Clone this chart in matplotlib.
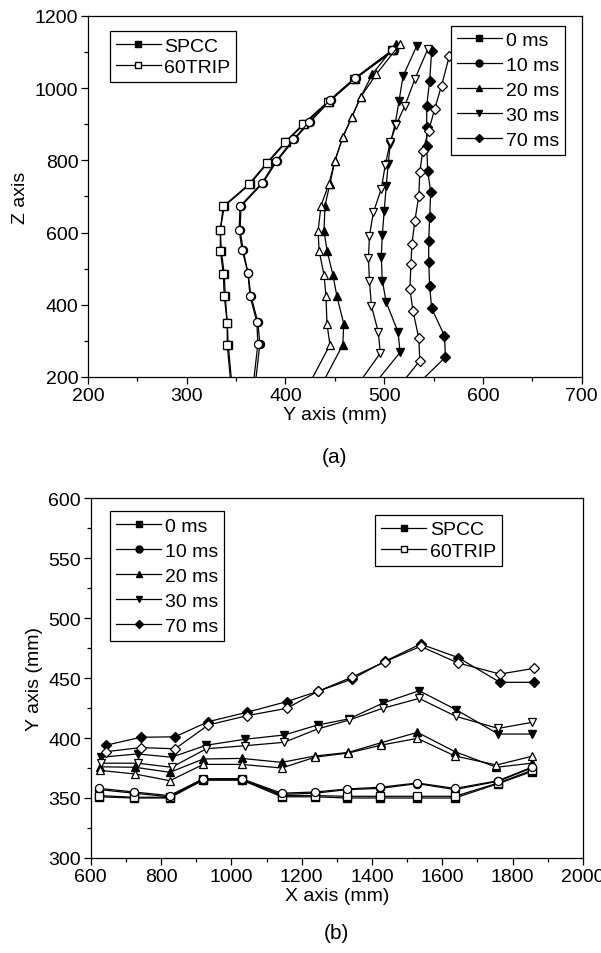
import matplotlib
matplotlib.use("Agg")
import matplotlib.pyplot as plt
from matplotlib.lines import Line2D
from matplotlib.ticker import MultipleLocator

plt.rcParams['font.family'] = ['Liberation Sans', 'DejaVu Sans']
plt.rcParams['font.size'] = 14

# ---- (a) Z axis vs Y axis ----
labels = ['0 ms', '10 ms', '20 ms', '30 ms', '70 ms']
markers = ['s', 'o', '^', 'v', 'D']

a_z_spcc = [
    [170, 289, 350, 424, 485, 550, 608, 673, 734, 793, 852, 901, 963, 1025, 1105],
    [170, 291, 352, 425, 488, 553, 608, 673, 737, 797, 858, 907, 967, 1027, 1105],
    [170, 289, 347, 424, 483, 550, 605, 675, 735, 799, 864, 919, 975, 1039, 1122],
    [170, 268, 324, 407, 467, 532, 593, 661, 730, 790, 845, 901, 965, 1033, 1118],
    [170, 255, 314, 390, 451, 519, 578, 642, 712, 771, 841, 892, 952, 1021, 1104],
]
a_y_spcc = [
    [346, 342, 341, 339, 338, 335, 334, 338, 364, 382, 401, 419, 444, 470, 509],
    [369, 374, 372, 365, 362, 357, 354, 355, 377, 391, 409, 425, 446, 471, 510],
    [435, 458, 459, 452, 448, 442, 439, 440, 445, 450, 458, 467, 476, 488, 512],
    [487, 516, 514, 502, 498, 497, 498, 500, 502, 504, 506, 511, 515, 519, 533],
    [530, 562, 561, 548, 546, 545, 545, 546, 547, 544, 543, 543, 543, 546, 548],
]
a_z_trip = [
    [170, 289, 350, 424, 485, 550, 608, 673, 734, 793, 852, 901, 963, 1025, 1105],
    [170, 291, 352, 425, 488, 553, 608, 673, 737, 797, 858, 907, 967, 1027, 1105],
    [170, 289, 347, 424, 483, 550, 605, 675, 735, 799, 864, 919, 975, 1039, 1122],
    [170, 266, 324, 397, 467, 529, 591, 656, 721, 787, 850, 898, 952, 1025, 1108],
    [170, 245, 307, 384, 444, 513, 568, 633, 702, 767, 827, 882, 942, 1007, 1090],
]
a_y_trip = [
    [345, 341, 341, 338, 337, 334, 334, 337, 363, 381, 400, 418, 443, 469, 508],
    [367, 372, 371, 364, 362, 356, 353, 354, 376, 390, 408, 424, 445, 470, 508],
    [422, 445, 442, 441, 439, 434, 433, 436, 444, 450, 458, 467, 476, 492, 516],
    [471, 496, 494, 487, 485, 484, 485, 489, 497, 501, 506, 512, 521, 531, 544],
    [514, 536, 535, 529, 526, 527, 528, 531, 535, 536, 539, 545, 551, 558, 566],
]

# ---- (b) Y axis vs X axis ----
b_x = [
    [624, 723, 824, 920, 1029, 1143, 1238, 1328, 1423, 1529, 1636, 1759, 1854],
    [624, 723, 824, 920, 1029, 1143, 1238, 1330, 1424, 1529, 1636, 1759, 1854],
    [626, 726, 825, 920, 1029, 1143, 1238, 1333, 1425, 1529, 1636, 1754, 1854],
    [630, 733, 830, 929, 1040, 1150, 1245, 1335, 1430, 1534, 1639, 1759, 1854],
    [644, 742, 840, 934, 1044, 1157, 1247, 1342, 1437, 1538, 1645, 1764, 1860],
]
b_y_spcc = [
    [351, 350, 350, 365, 365, 351, 351, 350, 350, 350, 350, 362, 372],
    [357, 354, 351, 365, 365, 353, 354, 357, 358, 362, 357, 364, 375],
    [376, 375.6, 371.4, 382.5, 383, 379.7, 385, 388, 396, 404.7, 388.6, 375.6, 379],
    [384, 386.7, 384, 394, 399, 402.5, 410.8, 416, 429, 439.4, 423.6, 403.3, 403.3],
    [394, 400.6, 401, 413.6, 421.4, 430.3, 439, 449, 464, 478.3, 467, 446.4, 446.4],
]
b_y_trip = [
    [352, 350.6, 350.6, 366, 366, 352, 352, 351.4, 351.4, 351.4, 351.4, 362.5, 373],
    [358, 355, 352, 366, 366, 354, 355, 357.5, 359, 362.5, 358, 364.4, 375.6],
    [373, 370, 364.4, 378, 378, 375, 384, 387.5, 394, 399.7, 385, 377.5, 384.7],
    [379, 379, 375.6, 391, 393.6, 396.4, 407.5, 415, 424.7, 433, 418, 408, 413],
    [388.6, 392, 391, 410.8, 418.6, 424.7, 439, 450.6, 463.6, 476.4, 462.5, 453.3, 458],
]

fig = plt.figure(figsize=(6.01, 9.54), dpi=100)
ax1 = fig.add_axes([0.1464, 0.6038, 0.8216, 0.3784])
ax2 = fig.add_axes([0.151, 0.0996, 0.819, 0.3773])


def msize(m):
    return 4.6 if m == 'D' else 5.8


# draw SPCC first, 60TRIP (open) on top
for i, m in enumerate(markers):
    ax1.plot(a_y_spcc[i], a_z_spcc[i], color='black', lw=0.9, marker=m,
             ms=msize(m), mfc='black', mec='black', zorder=2)
    ax1.plot(a_y_trip[i], a_z_trip[i], color='black', lw=0.9, marker=m,
             ms=msize(m), mfc='white', mec='black', mew=0.9, zorder=3)
    ax2.plot(b_x[i], b_y_spcc[i], color='black', lw=0.9, marker=m,
             ms=msize(m), mfc='black', mec='black', zorder=2)
    ax2.plot(b_x[i], b_y_trip[i], color='black', lw=0.9, marker=m,
             ms=msize(m), mfc='white', mec='black', mew=0.9, zorder=3)

# axes setup
ax1.set_xlim(200, 700)
ax1.set_ylim(200, 1200)
ax1.xaxis.set_major_locator(MultipleLocator(100))
ax1.xaxis.set_minor_locator(MultipleLocator(50))
ax1.yaxis.set_major_locator(MultipleLocator(200))
ax1.yaxis.set_minor_locator(MultipleLocator(100))
ax1.set_xlabel('Y axis (mm)', labelpad=2)
ax1.set_ylabel('Z axis', labelpad=4)

ax2.set_xlim(600, 2000)
ax2.set_ylim(300, 600)
ax2.xaxis.set_major_locator(MultipleLocator(200))
ax2.xaxis.set_minor_locator(MultipleLocator(100))
ax2.yaxis.set_major_locator(MultipleLocator(50))
ax2.yaxis.set_minor_locator(MultipleLocator(25))
ax2.set_xlabel('X axis (mm)', labelpad=2)
ax2.set_ylabel('Y axis (mm)', labelpad=4)

for ax in (ax1, ax2):
    ax.tick_params(which='both', direction='out', top=False, right=False)
    ax.tick_params(which='major', length=5, width=0.9, labelsize=14, pad=2)
    ax.tick_params(which='minor', length=3, width=0.9)
    for s in ax.spines.values():
        s.set_linewidth(0.9)

# legends
mat_handles = [
    Line2D([], [], color='black', lw=0.9, marker='s', ms=5, mfc='black', mec='black'),
    Line2D([], [], color='black', lw=0.9, marker='s', ms=5, mfc='white', mec='black'),
]
time_handles = [Line2D([], [], color='black', lw=0.9, marker=m, ms=msize(m) - 0.8,
                       mfc='black', mec='black') for m in markers]

leg_kw = dict(fancybox=False, framealpha=1, edgecolor='black', fontsize=14,
              handlelength=2.3, handletextpad=0.2, borderpad=0.3,
              borderaxespad=0.5)

l1 = ax1.legend(mat_handles, ['SPCC', '60TRIP'], loc='upper left',
                bbox_to_anchor=(0.025, 0.985), labelspacing=0.2, **leg_kw)
l1.get_frame().set_linewidth(0.9)
ax1.add_artist(l1)
l2 = ax1.legend(time_handles, labels, loc='upper right',
                bbox_to_anchor=(0.985, 1.0), labelspacing=0.38, **leg_kw)
l2.get_frame().set_linewidth(0.9)

l3 = ax2.legend(time_handles, labels, loc='upper left',
                bbox_to_anchor=(0.02, 0.99), labelspacing=0.38, **leg_kw)
l3.get_frame().set_linewidth(0.9)
ax2.add_artist(l3)
l4 = ax2.legend(mat_handles, ['SPCC', '60TRIP'], loc='upper right',
                bbox_to_anchor=(0.855, 0.98), labelspacing=0.2, **leg_kw)
l4.get_frame().set_linewidth(0.9)

# panel labels
fig.text(0.557, 0.52, '(a)', ha='center', va='center', fontsize=15)
fig.text(0.56, 0.022, '(b)', ha='center', va='center', fontsize=15)

fig.savefig('out.png', dpi=100)
plt.close(fig)
